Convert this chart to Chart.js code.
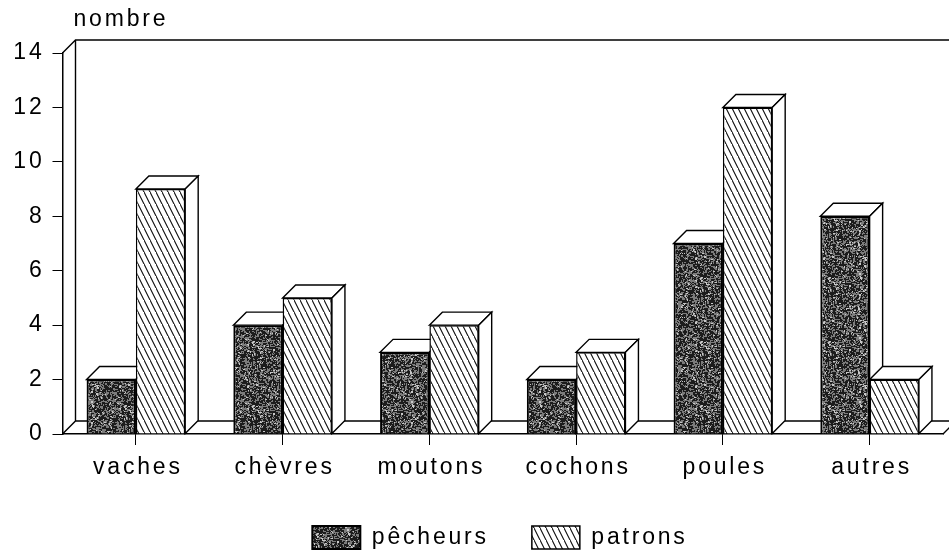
<!DOCTYPE html>
<html>
<head>
<meta charset="utf-8">
<style>
  html, body { margin: 0; padding: 0; background: #fff; overflow: hidden; }
  canvas { display: block; }
</style>
<script src="https://cdn.jsdelivr.net/npm/chart.js@4"></script>
</head>
<body>
<canvas id="chart" width="949" height="557"></canvas>
<script>
const categories = ["vaches", "chèvres", "moutons", "cochons", "poules", "autres"];
const pecheurs = [2, 4, 3, 2, 7, 8];
const patrons = [9, 5, 4, 3, 12, 2];
const seriesNames = ["pêcheurs", "patrons"];
const yTitle = "nombre";

const DEPTH = 13;
const INK = "#000";
const FONT = "Liberation Sans";
const SPACING = "2.8px";

// dark speckled fill, same tile every run (hash of the pixel position)
function stipple() {
  const c = document.createElement("canvas");
  c.width = c.height = 64;
  const g = c.getContext("2d");
  g.fillStyle = "#1c1c1c";
  g.fillRect(0, 0, 64, 64);
  for (let y = 0; y < 64; y++) {
    for (let x = 0; x < 64; x++) {
      let h = (x * 374761393 + y * 668265263) | 0;
      h = Math.imul(h ^ (h >>> 13), 1274126177);
      h = (h ^ (h >>> 16)) >>> 0;
      if (h % 100 < 32) {
        g.fillStyle = h % 7 === 0 ? "#c8c8c8" : "#7c7c7c";
        g.fillRect(x, y, h % 3 === 0 ? 2 : 1, h % 5 === 0 ? 2 : 1);
      }
    }
  }
  return g.createPattern(c, "repeat");
}

function hatch() {
  const c = document.createElement("canvas");
  c.width = 6;
  c.height = 12;
  const g = c.getContext("2d");
  g.fillStyle = "#fff";
  g.fillRect(0, 0, 6, 12);
  g.strokeStyle = "#111";
  g.lineWidth = 1.1;
  g.beginPath();
  g.moveTo(-6, 0); g.lineTo(6, 24);
  g.moveTo(0, 0); g.lineTo(6, 12);
  g.moveTo(-3, -6); g.lineTo(9, 18);
  g.stroke();
  return g.createPattern(c, "repeat");
}

function shape(ctx, pts) {
  ctx.beginPath();
  pts.forEach((p, i) => i ? ctx.lineTo(p[0], p[1]) : ctx.moveTo(p[0], p[1]));
  ctx.closePath();
  ctx.fill();
  ctx.stroke();
}

// back wall, floor and the top/side faces of the bars
const depthPlugin = {
  id: "depth",
  beforeLayout(chart) { chart.ctx.letterSpacing = SPACING; },
  afterLayout(chart) {
    // the legend sits lower and further right than the layout would put it
    const legend = chart.legend;
    const w = legend.width;
    legend.left = 500 - w / 2;
    legend.right = legend.left + w;
    legend.top = 526 - legend.options.labels.padding;
    legend.bottom = legend.top + legend.height;
  },
  beforeDraw(chart) { chart.ctx.letterSpacing = SPACING; },
  beforeDatasetsDraw(chart) {
    const ctx = chart.ctx;
    const { left, right, top, bottom } = chart.chartArea;
    ctx.save();
    ctx.strokeStyle = INK;
    ctx.lineWidth = 1.4;
    ctx.beginPath();
    ctx.moveTo(left, top);
    ctx.lineTo(left + DEPTH, top - DEPTH);
    ctx.lineTo(chart.width, top - DEPTH);
    ctx.moveTo(left + DEPTH, top - DEPTH);
    ctx.lineTo(left + DEPTH, bottom - DEPTH);
    ctx.moveTo(left, bottom);
    ctx.lineTo(left + DEPTH, bottom - DEPTH);
    ctx.lineTo(chart.width, bottom - DEPTH);
    ctx.moveTo(right, bottom);
    ctx.lineTo(right + DEPTH, bottom - DEPTH);
    ctx.stroke();

    ctx.fillStyle = "#fff";
    categories.forEach((_, i) => {
      chart.data.datasets.forEach((_, d) => {
        const bar = chart.getDatasetMeta(d).data[i];
        const x0 = bar.x - bar.width / 2;
        const x1 = bar.x + bar.width / 2;
        shape(ctx, [[x0, bar.y], [x0 + DEPTH, bar.y - DEPTH], [x1 + DEPTH, bar.y - DEPTH], [x1, bar.y]]);
        shape(ctx, [[x1, bar.y], [x1 + DEPTH, bar.y - DEPTH], [x1 + DEPTH, bar.base - DEPTH], [x1, bar.base]]);
      });
    });
    ctx.restore();
  },
  afterDraw(chart) {
    const ctx = chart.ctx;
    ctx.save();
    ctx.fillStyle = INK;
    ctx.font = "23px '" + FONT + "'";
    ctx.textAlign = "left";
    ctx.textBaseline = "alphabetic";
    ctx.fillText(yTitle, chart.chartArea.left + 11, 26);
    ctx.restore();
  }
};

new Chart(document.getElementById("chart"), {
  type: "bar",
  data: {
    labels: categories,
    datasets: [
      { label: seriesNames[0], data: pecheurs, backgroundColor: stipple(), borderColor: "#000", borderWidth: 2 },
      { label: seriesNames[1], data: patrons, backgroundColor: hatch(), borderColor: INK, borderWidth: 1.5 }
    ]
  },
  plugins: [depthPlugin],
  options: {
    responsive: false,
    animation: false,
    categoryPercentage: 0.672,
    barPercentage: 1,
    layout: { padding: { left: 8, right: 6, top: 53, bottom: 0 } },
    font: { family: FONT, size: 23 },
    color: INK,
    scales: {
      x: {
        afterFit(axis) { axis.height = 47; },
        border: { color: INK, width: 1.5 },
        grid: { offset: false, drawOnChartArea: false, color: INK, tickLength: 11 },
        ticks: { color: INK, font: { family: FONT, size: 23 }, padding: 9, labelOffset: 2, autoSkip: false, maxRotation: 0 }
      },
      y: {
        min: 0,
        max: 14,
        afterFit(axis) { axis.width = 54.5; },
        border: { color: INK, width: 1.5 },
        grid: { drawOnChartArea: false, color: INK, tickLength: 10 },
        ticks: { stepSize: 2, color: INK, font: { family: FONT, size: 23 }, padding: 8 }
      }
    },
    plugins: {
      tooltip: { enabled: false },
      legend: {
        position: "bottom",
        labels: {
          boxWidth: 48,
          boxHeight: 23,
          padding: 43,
          color: INK,
          font: { family: FONT, size: 23 }
        }
      }
    }
  }
});
</script>
</body>
</html>
